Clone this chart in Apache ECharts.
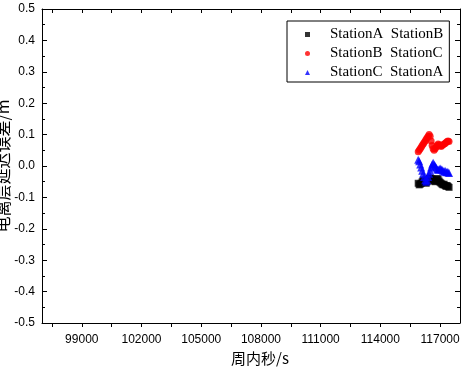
<!DOCTYPE html>
<html>
<head>
<meta charset="utf-8">
<script src="https://cdn.jsdelivr.net/npm/echarts@6/dist/echarts.min.js"></script>
<style>html,body{margin:0;padding:0;background:#fff;}#c{width:461px;height:369px;}</style>
</head>
<body>
<div id="c"></div>
<script>
// ---- data ----
var seriesNames = ['StationA  StationB', 'StationB  StationC', 'StationC  StationA'];
var times = [115900,115950,116000,116050,116100,116150,116200,116250,116300,116350,116400,116450,116500,116550,116600,116650,116700,116750,116800,116850,116900,116950,117000,117050,117100,117150,117200,117250,117300,117350,117400,117450];
var valuesAB = [-0.055,-0.06,-0.058,-0.055,-0.05,-0.045,-0.048,-0.052,-0.055,-0.05,-0.045,-0.04,-0.038,-0.04,-0.042,-0.045,-0.048,-0.05,-0.045,-0.04,-0.042,-0.048,-0.052,-0.055,-0.058,-0.06,-0.058,-0.062,-0.065,-0.062,-0.065,-0.068];
var valuesBC = [0.045,0.05,0.055,0.06,0.065,0.07,0.075,0.08,0.085,0.09,0.095,0.1,0.095,0.08,0.065,0.055,0.05,0.055,0.06,0.065,0.07,0.068,0.065,0.062,0.065,0.068,0.07,0.072,0.075,0.078,0.08,0.078];
var valuesCA = [0.02,0.015,0.005,-0.005,-0.015,-0.025,-0.035,-0.045,-0.05,-0.045,-0.035,-0.025,-0.015,-0.005,0.005,0.01,0.005,0.0,-0.005,-0.01,-0.012,-0.01,-0.008,-0.01,-0.012,-0.015,-0.018,-0.015,-0.02,-0.018,-0.02,-0.022];
var xLabelValues = [99000,102000,105000,108000,111000,114000,117000];
var xTickValues = [97500,99000,100500,102000,103500,105000,106500,108000,109500,111000,112500,114000,115500,117000];
var xMin = 97000, xMax = 118000;
var yMin = -0.5, yMax = 0.5, yStep = 0.1;
var xTitle = '周内秒/s';
var yTitle = '电离层延迟误差/m';

function pairs(t, v) { return t.map(function (x, i) { return [x, v[i]]; }); }

var chart = echarts.init(document.getElementById('c'), null, {renderer: 'canvas'});
var lineStyle = {color: '#000', width: 1};
chart.setOption({
  animation: false,
  backgroundColor: '#fff',
  grid: {left: 42, right: 1, top: 9, bottom: 46, containLabel: false, outerBoundsMode: 'none'},
  legend: {
    orient: 'vertical', left: 287, top: 21,
    padding: [6, 6, 2, 18], itemGap: 4, itemWidth: 5, itemHeight: 5,
    backgroundColor: '#fff', borderColor: '#000', borderWidth: 1, borderRadius: 0,
    textStyle: {color: '#000', fontSize: 15, fontFamily: 'Liberation Serif', padding: [0, 0, 0, 15]},
    data: seriesNames
  },
  xAxis: [{
    type: 'value', position: 'bottom', min: xMin, max: xMax,
    axisLine: {show: true, onZero: false, lineStyle: lineStyle},
    axisTick: {show: true, inside: false, length: 4, customValues: xTickValues, lineStyle: lineStyle},
    axisLabel: {customValues: xLabelValues, margin: 11, color: '#000', fontSize: 12, fontFamily: 'Liberation Sans',
      formatter: function (v) { return String(v); }},
    splitLine: {show: false},
    name: xTitle, nameLocation: 'middle', nameGap: 28, nameMoveOverlap: false,
    nameTextStyle: {color: '#000', fontSize: 15, fontFamily: 'Noto Sans CJK SC', padding: [0, 0, 0, 18]}
  }, {
    type: 'value', position: 'top', min: xMin, max: xMax,
    axisLine: {show: true, onZero: false, lineStyle: lineStyle},
    axisTick: {show: true, inside: true, length: 4, customValues: xTickValues, lineStyle: lineStyle},
    axisLabel: {show: false},
    splitLine: {show: false}
  }],
  yAxis: [{
    type: 'value', position: 'left', min: yMin, max: yMax, interval: yStep,
    axisLine: {show: true, onZero: false, lineStyle: lineStyle},
    axisTick: {show: true, inside: true, length: 5, lineStyle: lineStyle},
    minorTick: {show: true, splitNumber: 2, length: 3, lineStyle: lineStyle},
    axisLabel: {margin: 7, color: '#000', fontSize: 12, fontFamily: 'Liberation Sans',
      formatter: function (v) { return v.toFixed(1); }},
    splitLine: {show: false},
    name: yTitle, nameLocation: 'middle', nameGap: 31, nameMoveOverlap: false,
    nameTextStyle: {color: '#000', fontSize: 16, fontFamily: 'Noto Sans CJK SC'}
  }, {
    type: 'value', position: 'right', min: yMin, max: yMax, interval: yStep,
    axisLine: {show: true, onZero: false, lineStyle: lineStyle},
    axisTick: {show: true, inside: true, length: 5, lineStyle: lineStyle},
    minorTick: {show: true, splitNumber: 2, length: 3, lineStyle: lineStyle},
    axisLabel: {show: false},
    splitLine: {show: false}
  }],
  series: [
    {name: seriesNames[0], type: 'scatter', symbol: 'rect', symbolSize: 7, itemStyle: {color: '#000000'}, data: pairs(times, valuesAB)},
    {name: seriesNames[1], type: 'scatter', symbol: 'circle', symbolSize: 7, itemStyle: {color: '#ff0000'}, data: pairs(times, valuesBC)},
    {name: seriesNames[2], type: 'scatter', symbol: 'triangle', symbolSize: 8, itemStyle: {color: '#0000ff'}, data: pairs(times, valuesCA)}
  ]
});
</script>
</body>
</html>
